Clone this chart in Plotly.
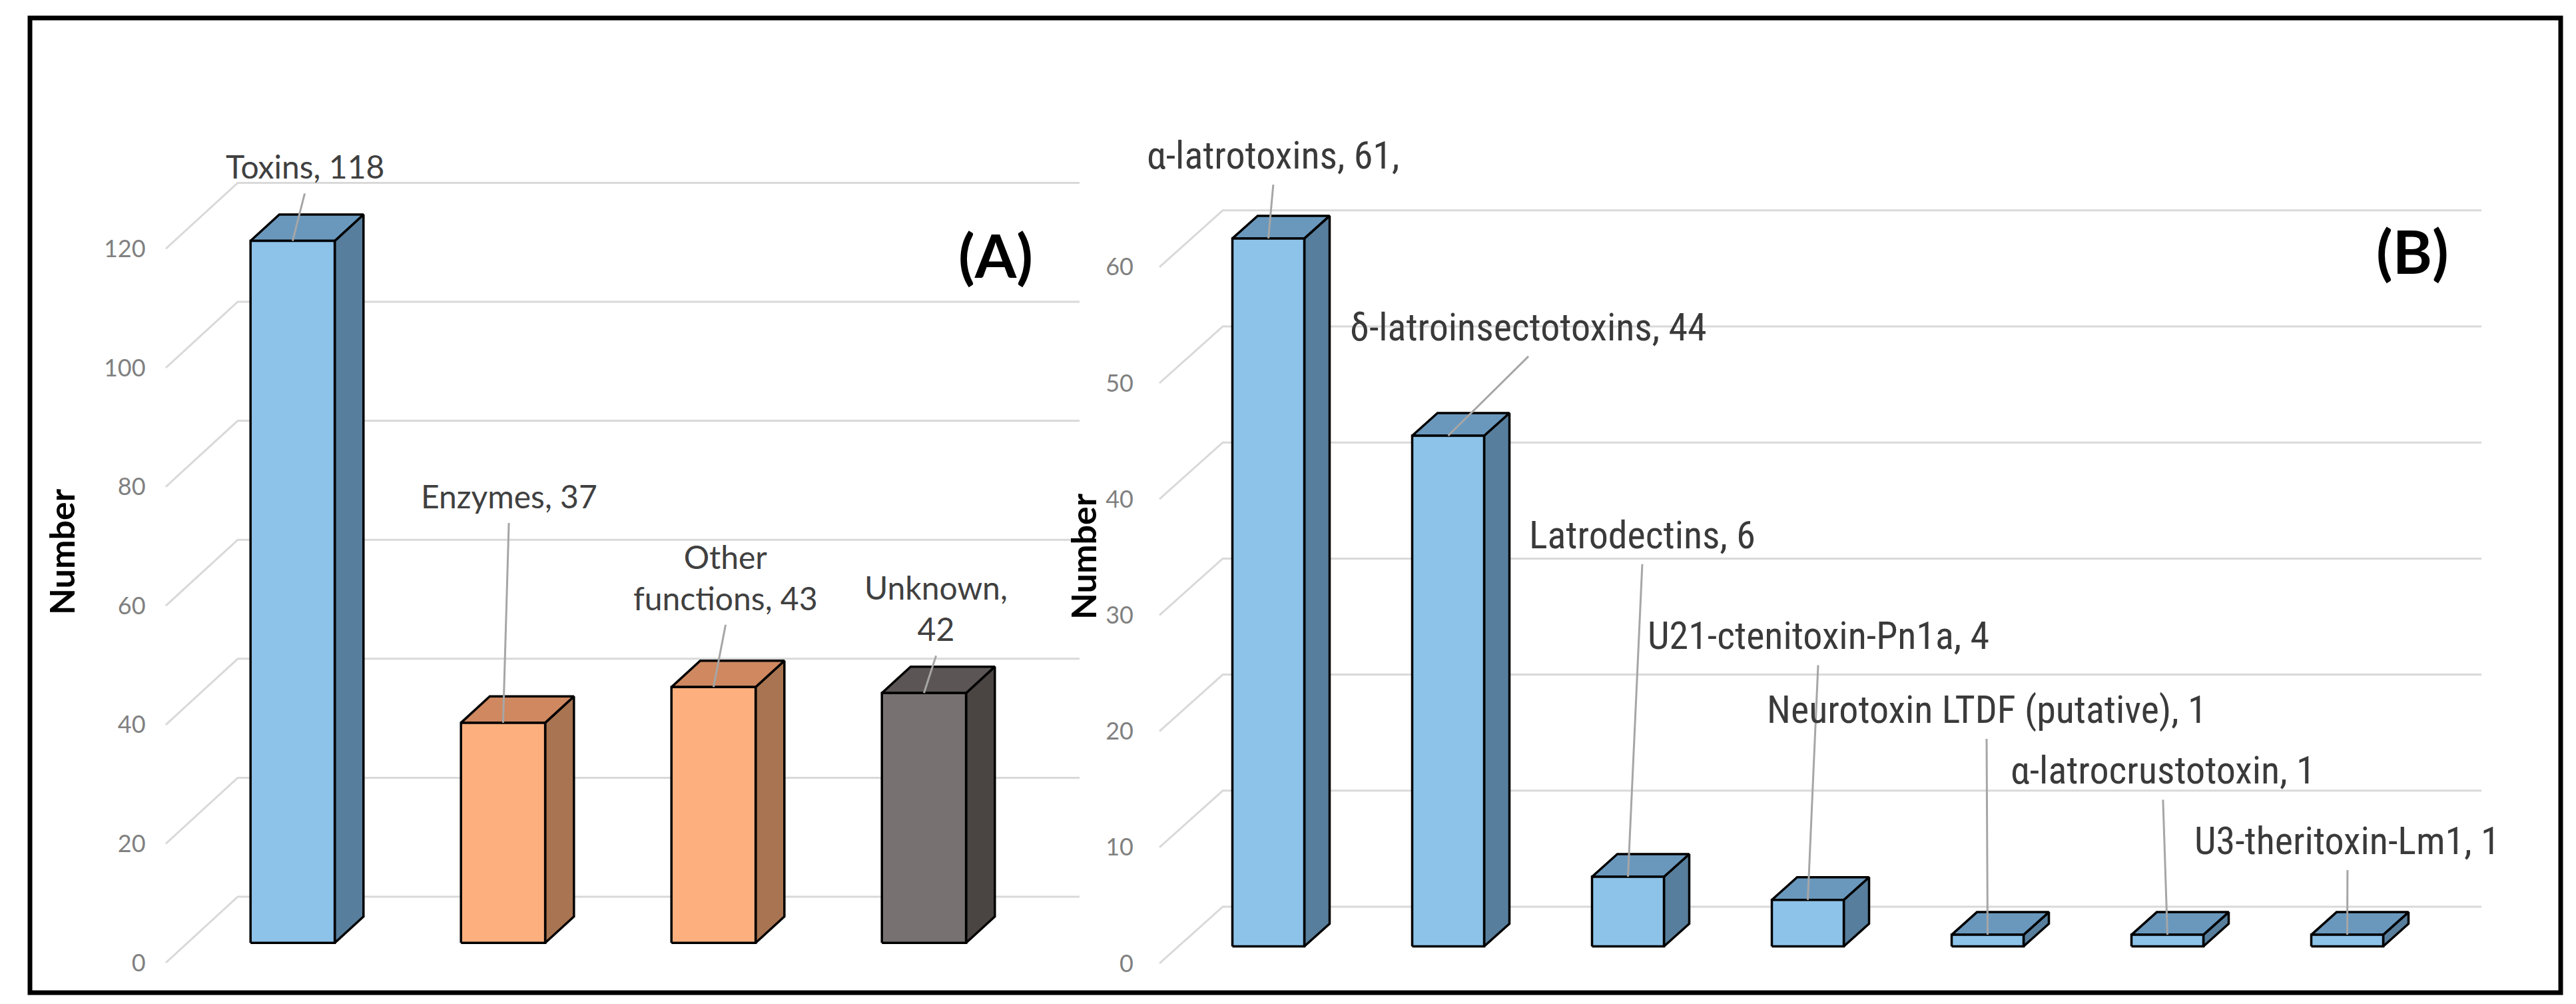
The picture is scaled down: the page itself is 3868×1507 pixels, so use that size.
import plotly.graph_objects as go

# ---- values ----
a_names = ["Toxins", "Enzymes", "Other<br>functions", "Unknown"]
a_values = [118, 37, 43, 42]
a_ticks = [0, 20, 40, 60, 80, 100, 120]

b_names = ["α-latrotoxins", "δ-latroinsectotoxins", "Latrodectins",
           "U21-ctenitoxin-Pn1a", "Neurotoxin LTDF (putative)",
           "α-latrocrustotoxin", "U3-theritoxin-Lm1"]
b_values = [61, 44, 6, 4, 1, 1, 1]
b_ticks = [0, 10, 20, 30, 40, 50, 60]

# where the data labels were dragged to (axis units, start of the leader line)
a_label_x = [0.66, 1.63, 2.66, 3.66]
a_label_y = [129.3, 73.9, 56.8, 51.6]
a_label_sep = [" ", " ", " ", "<br>"]
b_label_x = [0.633, 2.052, 2.685, 3.663, 4.60, 5.581, 6.607]
b_label_y = [67.1, 52.3, 34.4, 25.7, 19.35, 14.1, 8.04]
b_label_end = [",", "", "", "", "", "", ""]

W, H = 3868, 1507

BLUE = ("#8dc3e9", "#6a98bd", "#577e9c")   # front, top, side
PEACH = ("#fdb07e", "#cf8860", "#a97451")
GREY = ("#777171", "#5b5655", "#4a4442")
a_colors = [BLUE, PEACH, PEACH, GREY]
b_colors = [BLUE] * len(b_values)

GRID = "#d9d9d9"
LEADER = "#a6a6a6"
FRONT, BACK = 0.3, 0.7   # depth of the bar faces (fraction of the floor depth)
NARROW = ("Roboto Condensed, Noto Sans Condensed, Liberation Sans Narrow, "
          "DejaVu Sans Condensed, sans-serif")

fig = go.Figure()


def axes(ax, ay, n, x0_px, pitch, zero_px, unit_px, depth_x, ticks, standoff):
    """oblique 3D-like panel: x in category units, y in value units"""
    lo, hi = -0.03, n + depth_x + 0.03
    fig.layout["xaxis" + ax] = dict(
        domain=[(x0_px + lo * pitch) / W, (x0_px + hi * pitch) / W],
        range=[lo, hi], visible=False, fixedrange=True)
    fig.layout["yaxis" + ay] = dict(
        domain=[0, 1], anchor="x" + ax,
        range=[(zero_px - H) / unit_px, zero_px / unit_px],
        showgrid=False, zeroline=False, showline=False, ticks="",
        tickvals=ticks, ticklabelstandoff=standoff,
        tickfont=dict(family="Lato", size=36, color="#808080"))


def draw_panel(ax, values, ticks, colors, dx, dy):
    xa, ya = "x" + ax, "y" + ax
    n = len(values)
    gx, gy = [], []
    for t in ticks:
        gx += [0, dx, n + dx, None]
        gy += [t, t + dy, t + dy, None]
    fig.add_trace(go.Scatter(x=gx, y=gy, mode="lines", xaxis=xa, yaxis=ya,
                             line=dict(color=GRID, width=3), hoverinfo="skip"))
    for i, v in enumerate(values):
        cf, ct, cs = colors[i]
        l, r = i + 0.3, i + 0.7
        f, b = FRONT, BACK
        side = ([r + f * dx, r + b * dx, r + b * dx, r + f * dx, r + f * dx],
                [f * dy, b * dy, v + b * dy, v + f * dy, f * dy])
        top = ([l + f * dx, r + f * dx, r + b * dx, l + b * dx, l + f * dx],
               [v + f * dy, v + f * dy, v + b * dy, v + b * dy, v + f * dy])
        front = ([l + f * dx, r + f * dx, r + f * dx, l + f * dx, l + f * dx],
                 [f * dy, f * dy, v + f * dy, v + f * dy, f * dy])
        for (px, py), c in [(side, cs), (top, ct), (front, cf)]:
            fig.add_trace(go.Scatter(x=px, y=py, mode="lines", fill="toself",
                                     fillcolor=c, xaxis=xa, yaxis=ya,
                                     line=dict(color="black", width=3.5),
                                     hoverinfo="skip"))


def add_labels(ax, texts, values, lab_x, lab_y, dx, dy, font, yshift):
    xa, ya = "x" + ax, "y" + ax
    lx, ly = [], []
    for i, v in enumerate(values):
        lx += [lab_x[i], i + 0.5 + FRONT * dx, None]
        ly += [lab_y[i], v + FRONT * dy, None]
    fig.add_trace(go.Scatter(x=lx, y=ly, mode="lines", xaxis=xa, yaxis=ya,
                             line=dict(color=LEADER, width=3), hoverinfo="skip"))
    for i, t in enumerate(texts):
        fig.add_annotation(x=lab_x[i], y=lab_y[i], xref=xa, yref=ya, text=t,
                           showarrow=False, xanchor="center", yanchor="bottom",
                           yshift=yshift, font=font)


# panel A
A_PITCH, A_UNIT = 316, 8.93
a_dx, a_dy = 108 / A_PITCH, 99 / A_UNIT
axes("", "", len(a_values), 241, A_PITCH, 1437, A_UNIT, a_dx, a_ticks, 20)
draw_panel("", a_values, a_ticks, a_colors, a_dx, a_dy)
a_texts = [f"{n},{s}{v}" for n, s, v in zip(a_names, a_label_sep, a_values)]
add_labels("", a_texts, a_values, a_label_x, a_label_y, a_dx, a_dy,
           dict(family="Lato", size=48, color="#404040"), 10)

# panel B
B_PITCH, B_UNIT = 270, 17.42
b_dx, b_dy = 95 / B_PITCH, 85 / B_UNIT
axes("2", "2", len(b_values), 1733, B_PITCH, 1438, B_UNIT, b_dx, b_ticks, 30)
draw_panel("2", b_values, b_ticks, b_colors, b_dx, b_dy)
b_texts = [f"{n}, {v}{e}" for n, v, e in zip(b_names, b_values, b_label_end)]
add_labels("2", b_texts, b_values, b_label_x, b_label_y, b_dx, b_dy,
           dict(family=NARROW, size=58, color="#3a3a3a"), 8)

# axis titles and panel letters
for x, y in [(84, 820), (1618, 827)]:
    fig.add_annotation(x=x / W, y=1 - y / H, xref="paper", yref="paper",
                       text="<b>Number</b>", textangle=-90, showarrow=False,
                       xanchor="center", yanchor="middle",
                       font=dict(family="Lato", size=52, color="black"))
for t, x, y in [("(A)", 1487, 374), ("(B)", 3614, 368)]:
    fig.add_annotation(x=x / W, y=1 - y / H, xref="paper", yref="paper",
                       text=f"<b>{t}</b>", showarrow=False,
                       xanchor="center", yanchor="middle",
                       font=dict(family="Lato", size=90, color="black"))

# outer frame
fig.add_shape(type="rect", xref="paper", yref="paper",
              x0=37 / W, x1=3837 / W, y0=1 - 1482 / H, y1=1 - 19 / H,
              line=dict(color="black", width=7))

fig.update_layout(width=W, height=H, margin=dict(l=0, r=0, t=0, b=0),
                  paper_bgcolor="white", plot_bgcolor="white",
                  showlegend=False, hovermode=False)

fig.write_html("out.html")
